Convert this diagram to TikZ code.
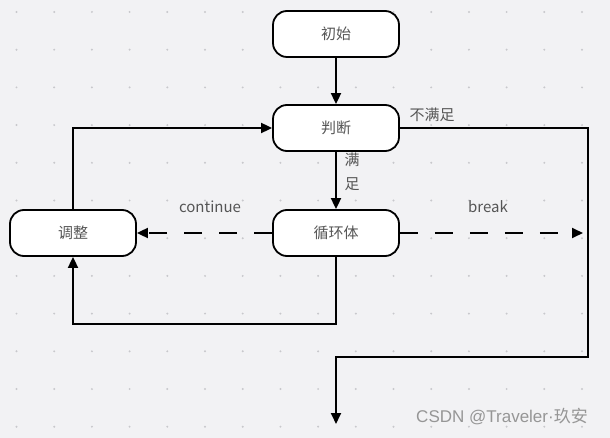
\documentclass[tikz,border=0pt]{standalone}
\usepackage{fontspec}
\newfontfamily\cjk{Noto Sans CJK SC}
\newfontfamily\marksans{Liberation Sans}
\usepackage{xcolor}
\usepackage{tikz}
\usetikzlibrary{arrows.meta,positioning,calc}

\definecolor{bggrey}{RGB}{242,242,244}
\definecolor{dotgrey}{RGB}{200,200,204}
\definecolor{labelgrey}{RGB}{85,85,85}
\definecolor{markgrey}{RGB}{150,150,150}

\begin{document}
\begin{tikzpicture}[
    x=1pt, y=-1pt,
    font=\cjk\fontsize{15}{18}\selectfont,
    % boxes of the flow chart
    flowbox/.style={rectangle, draw, line width=1.8pt, rounded corners=14pt, fill=white,
        minimum width=126pt, minimum height=46pt, text=labelgrey},
    flow/.style={draw, line width=1.8pt, -{Triangle[length=11pt,width=10pt]}},
    dashflow/.style={flow, dash pattern=on 18pt off 17pt},
    edgelabel/.style={text=labelgrey, inner sep=1pt}
]
    % --- Background and dot grid ---
    \fill[bggrey] (0,0) rectangle (610,438);
    \useasboundingbox (0,0) rectangle (610,438);
    \foreach \i in {0,...,15}
        \foreach \j in {0,...,11}
            \fill[dotgrey] (16.5+37.7*\i, 12+37.7*\j) circle (1.1pt);

    % --- Nodes ---
    \node[flowbox] (start)  at (336,34)  {初始};
    \node[flowbox] (judge)  at (336,128) {判断};
    \node[flowbox] (body)   at (336,233) {循环体};
    \node[flowbox] (adjust) at (73,233)  {调整};

    % --- Helper points ---
    \coordinate (exitR)    at (588,128);
    \coordinate (exitD)    at (588,357);
    \coordinate (exitL)    at (336,357);
    \coordinate (exitEnd)  at (336,424);
    \coordinate (breakEnd) at (583,233);
    \coordinate (loopB)    at (336,324);
    \coordinate (loopL)    at (73,324);

    % --- Connectors ---
    \draw[flow] (start) -- (judge);
    \draw[flow] (judge) -- (body);
    \node[edgelabel, align=center, font=\cjk\fontsize{15}{24}\selectfont] (yes) at (352,172) {满\\足};
    \draw[flow] (judge.east) -- (exitR) -- (exitD) -- (exitL) -- (exitEnd);
    \node[edgelabel] (no) at (432,115) {不满足};
    \draw[dashflow] (body) -- (adjust);
    \node[edgelabel] (cont) at (210,207) {continue};
    \draw[dashflow] (body.east) -- (breakEnd);
    \node[edgelabel] (brk) at (488,207) {break};
    \draw[flow] (body.south) -- (loopB) -- (loopL) -- (adjust.south);
    \draw[flow] (adjust) |- (judge);

    % --- Watermark ---
    \node[text=markgrey, font=\marksans\fontsize{17}{20}\selectfont] (mark) at (502,417) {CSDN @Traveler·{\cjk 玖安}};
\end{tikzpicture}
\end{document}
